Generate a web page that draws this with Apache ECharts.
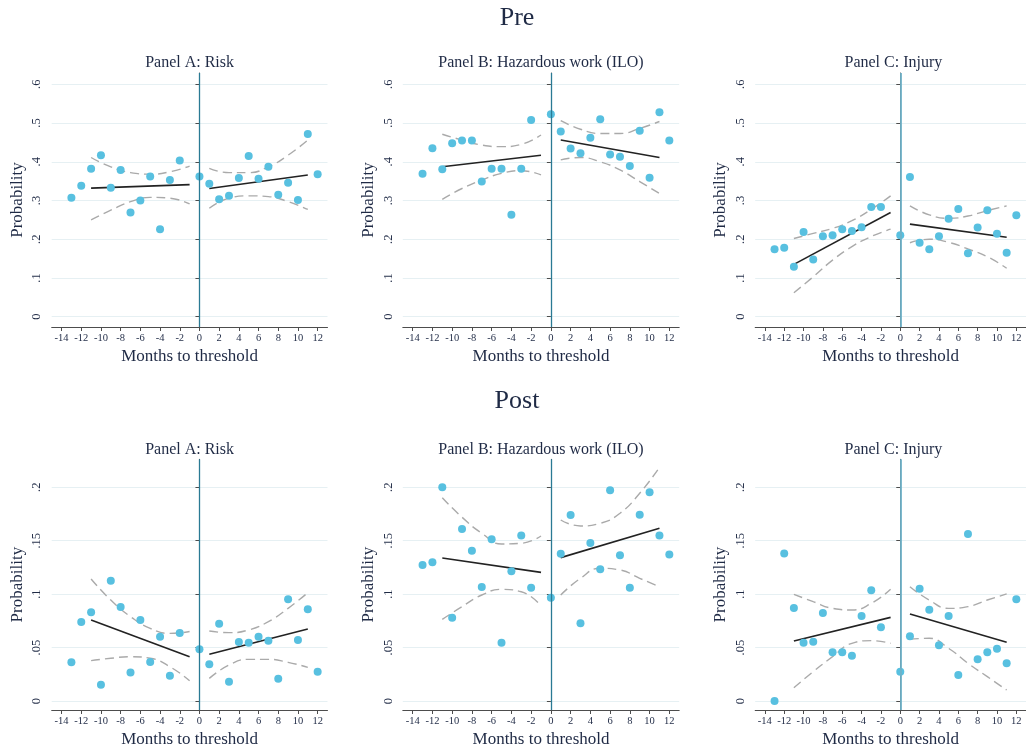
<!DOCTYPE html>
<html><head><meta charset="utf-8">
<script src="https://cdn.jsdelivr.net/npm/echarts@6/dist/echarts.min.js"></script>
<style>html,body{margin:0;padding:0;background:#fff}#c{width:1026px;height:753px}</style>
</head><body><div id="c"></div>
<script>
// ---------- data ----------
const months = [-13,-12,-11,-10,-9,-8,-7,-6,-5,-4,-3,-2,0,1,2,3,4,5,6,7,8,9,10,11,12];
const xTicks = [-14,-12,-10,-8,-6,-4,-2,0,2,4,6,8,10,12];
const preYTicks = [0,0.1,0.2,0.3,0.4,0.5,0.6];
const postYTicks = [0,0.05,0.1,0.15,0.2];
const fitLeftX = [-11,-1];
const fitRightX = [1,11];
const ciLeftX = [-11,-9,-7,-5,-3,-1];
const ciRightX = [1,3,5,7,9,11];
const panelTitles = ['Panel A: Risk','Panel B: Hazardous work (ILO)','Panel C: Injury'];
const rowTitles = ['Pre','Post'];

// Pre - Panel A: Risk
const preRisk = [0.307,0.338,0.382,0.417,0.333,0.379,0.269,0.300,0.362,0.226,0.353,0.403,0.362,0.343,0.303,0.312,0.358,0.415,0.356,0.387,0.315,0.346,0.301,0.472,0.368];
const preRiskFitL = [0.332,0.341];
const preRiskFitR = [0.331,0.366];
const preRiskUpL = [0.411,0.387,0.372,0.368,0.374,0.389];
const preRiskLoL = [0.250,0.275,0.297,0.308,0.306,0.291];
const preRiskUpR = [0.383,0.372,0.372,0.387,0.417,0.456];
const preRiskLoR = [0.280,0.306,0.312,0.310,0.297,0.277];

// Pre - Panel B: Hazardous work
const preHaz = [0.369,0.435,0.381,0.448,0.455,0.455,0.349,0.382,0.382,0.263,0.382,0.508,0.523,0.478,0.434,0.422,0.462,0.510,0.419,0.413,0.389,0.480,0.359,0.528,0.455];
const preHazFitL = [0.387,0.417];
const preHazFitR = [0.456,0.411];
const preHazUpL = [0.471,0.456,0.443,0.439,0.445,0.469];
const preHazLoL = [0.303,0.331,0.353,0.370,0.377,0.366];
const preHazUpR = [0.506,0.484,0.473,0.473,0.486,0.504];
const preHazLoR = [0.405,0.411,0.400,0.379,0.349,0.318];

// Pre - Panel C: Injury
const preInj = [0.174,0.178,0.129,0.219,0.148,0.208,0.210,0.226,0.221,0.231,0.283,0.283,0.210,0.361,0.191,0.174,0.208,0.253,0.278,0.164,0.230,0.275,0.214,0.165,0.262];
const preInjFitL = [0.135,0.269];
const preInjFitR = [0.239,0.205];
const preInjUpL = [0.202,0.215,0.228,0.248,0.277,0.312];
const preInjLoL = [0.062,0.103,0.146,0.181,0.207,0.226];
const preInjUpR = [0.286,0.263,0.254,0.260,0.274,0.286];
const preInjLoR = [0.191,0.200,0.192,0.175,0.155,0.125];

// Post - Panel A: Risk
const postRisk = [0.0362,0.074,0.083,0.0153,0.1126,0.088,0.0268,0.0758,0.0365,0.0602,0.0237,0.0637,0.0484,0.0343,0.0724,0.0181,0.0552,0.0546,0.0602,0.0565,0.0209,0.0952,0.0571,0.0858,0.0275];
const postRiskFitL = [0.0758,0.0415];
const postRiskFitR = [0.0437,0.0674];
const postRiskUpL = [0.1142,0.0945,0.079,0.068,0.0633,0.065];
const postRiskLoL = [0.0378,0.040,0.0415,0.040,0.0321,0.019];
const postRiskUpR = [0.0655,0.064,0.0665,0.0743,0.0867,0.1014];
const postRiskLoR = [0.0212,0.0337,0.039,0.039,0.0362,0.0315];

// Post - Panel B: Hazardous work
const postHaz = [0.1273,0.1298,0.2,0.078,0.161,0.1407,0.1067,0.1513,0.0546,0.1214,0.1548,0.1061,0.0967,0.1379,0.1741,0.0727,0.1479,0.1232,0.1972,0.1363,0.1061,0.1744,0.1953,0.155,0.137];
const postHazFitL = [0.1339,0.1204];
const postHazFitR = [0.1342,0.1616];
const postHazUpL = [0.1903,0.172,0.157,0.147,0.1476,0.1544];
const postHazLoL = [0.0764,0.0883,0.0992,0.1045,0.1023,0.0889];
const postHazUpR = [0.1694,0.1638,0.1663,0.1757,0.1944,0.2187];
const postHazLoR = [0.0992,0.1148,0.1242,0.1226,0.1148,0.107];

// Post - Panel C: Injury
const postInj = [0.0,0.138,0.087,0.0546,0.0555,0.0824,0.0456,0.0456,0.0424,0.0796,0.1036,0.069,0.0275,0.0605,0.1051,0.0855,0.0521,0.0796,0.0243,0.1563,0.039,0.0456,0.049,0.0353,0.0952];
const postInjFitL = [0.0562,0.0783];
const postInjFitR = [0.0814,0.0549];
const postInjUpL = [0.0998,0.093,0.0867,0.0852,0.0914,0.1045];
const postInjLoL = [0.0125,0.0275,0.0415,0.054,0.0565,0.054];
const postInjUpR = [0.107,0.0945,0.0867,0.0883,0.0945,0.1002];
const postInjLoR = [0.0577,0.0587,0.0493,0.0353,0.0228,0.0103];

// ---------- build ----------
const panels = [
  {pts:preRisk, fl:preRiskFitL, fr:preRiskFitR, ul:preRiskUpL, ll:preRiskLoL, ur:preRiskUpR, lr:preRiskLoR},
  {pts:preHaz, fl:preHazFitL, fr:preHazFitR, ul:preHazUpL, ll:preHazLoL, ur:preHazUpR, lr:preHazLoR},
  {pts:preInj, fl:preInjFitL, fr:preInjFitR, ul:preInjUpL, ll:preInjLoL, ur:preInjUpR, lr:preInjLoR},
  {pts:postRisk, fl:postRiskFitL, fr:postRiskFitR, ul:postRiskUpL, ll:postRiskLoL, ur:postRiskUpR, lr:postRiskLoR},
  {pts:postHaz, fl:postHazFitL, fr:postHazFitR, ul:postHazUpL, ll:postHazLoL, ur:postHazUpR, lr:postHazLoR},
  {pts:postInj, fl:postInjFitL, fr:postInjFitR, ul:postInjUpL, ll:postInjLoL, ur:postInjUpR, lr:postInjLoR}
];

const FONT = "'Liberation Serif', 'DejaVu Serif', serif";
const TXT = '#1f2a45';
const AX = '#4d4d4d';
const colLeft = [51.7, 402.8, 755.2];
const colWidth = [275.8, 276.4, 276.4];
const rowTop = [73, 459.3];
const rowHeight = [254, 250.7];
const rowMin = [-0.0266, -0.0084];
const rowMax = [0.6292, 0.2262];
const rowTicks = [preYTicks, postYTicks];

function yFmt(v){ return v === 0 ? '0' : String(v).replace(/^0/, ''); }
function zip(xs, ys){ return xs.map((x,i)=>[x, ys[i]]); }

const grid = [], xAxis = [], yAxis = [], series = [], graphic = [];
panels.forEach((p, i) => {
  const r = Math.floor(i/3), c = i % 3;
  grid.push({left: colLeft[c], top: rowTop[r], width: colWidth[c], height: rowHeight[r], containLabel: false});
  xAxis.push({
    gridIndex: i, type: 'value', min: -15, max: 13,
    name: 'Months to threshold', nameLocation: 'middle', nameGap: 21,
    nameTextStyle: {fontFamily: FONT, fontSize: 17, color: TXT},
    axisLine: {show: true, onZero: false, lineStyle: {color: AX, width: 1}},
    axisTick: {show: true, length: 4, customValues: xTicks, lineStyle: {color: AX}},
    axisLabel: {customValues: xTicks, fontFamily: FONT, fontSize: 10.5, color: TXT, margin: 6},
    splitLine: {show: false}
  });
  yAxis.push({
    gridIndex: i, type: 'value', min: rowMin[r], max: rowMax[r],
    name: 'Probability', nameLocation: 'middle', nameGap: 26,
    nameTextStyle: {fontFamily: FONT, fontSize: 17, color: TXT},
    axisLine: {show: true, lineStyle: {color: AX, width: 1}},
    axisTick: {show: true, length: 4, customValues: rowTicks[r], lineStyle: {color: AX}},
    axisLabel: {customValues: rowTicks[r], rotate: 90, formatter: yFmt, fontFamily: FONT, fontSize: 12.5, color: TXT, margin: 8},
    splitLine: {show: true, lineStyle: {color: '#e6f0f3', width: 1}}
  });
  const ciStyle = {color: '#aaaaaa', width: 1.4, type: [9, 5]};
  const base = {type: 'line', xAxisIndex: i, yAxisIndex: i, showSymbol: false, symbol: 'none', silent: true, animation: false};
  series.push(Object.assign({}, base, {
    data: zip(ciLeftX, p.ul), smooth: true, lineStyle: ciStyle, z: 2,
    markLine: {silent: true, symbol: ['none','none'], label: {show: false},
      lineStyle: {color: c === 2 ? '#6fb2c8' : '#2a7a94', width: c === 2 ? 1.8 : 1.3, type: 'solid'},
      data: [{xAxis: 0}]}
  }));
  series.push(Object.assign({}, base, {data: zip(ciLeftX, p.ll), smooth: true, lineStyle: ciStyle, z: 2}));
  series.push(Object.assign({}, base, {data: zip(ciRightX, p.ur), smooth: true, lineStyle: ciStyle, z: 2}));
  series.push(Object.assign({}, base, {data: zip(ciRightX, p.lr), smooth: true, lineStyle: ciStyle, z: 2}));
  series.push(Object.assign({}, base, {data: zip(fitLeftX, p.fl), lineStyle: {color: '#222222', width: 1.6}, z: 3}));
  series.push(Object.assign({}, base, {data: zip(fitRightX, p.fr), lineStyle: {color: '#222222', width: 1.6}, z: 3}));
  series.push({type: 'scatter', xAxisIndex: i, yAxisIndex: i, data: zip(months, p.pts),
    symbol: 'circle', symbolSize: 8, itemStyle: {color: '#58c0e0', opacity: 1}, z: 4, silent: true, animation: false});
  graphic.push({type: 'text', x: colLeft[c] + colWidth[c]/2, y: rowTop[r] - 10,
    style: {text: panelTitles[c], fontFamily: FONT, fontSize: 16, fill: TXT, align: 'center', verticalAlign: 'middle'}});
});
graphic.push({type: 'text', x: 517, y: 18, style: {text: rowTitles[0], fontFamily: FONT, fontSize: 26, fill: TXT, align: 'center', verticalAlign: 'middle'}});
graphic.push({type: 'text', x: 517, y: 401, style: {text: rowTitles[1], fontFamily: FONT, fontSize: 26, fill: TXT, align: 'center', verticalAlign: 'middle'}});

const chart = echarts.init(document.getElementById('c'), null, {renderer: 'canvas'});
chart.setOption({animation: false, backgroundColor: '#ffffff', grid, xAxis, yAxis, series, graphic});
</script>
</body></html>
